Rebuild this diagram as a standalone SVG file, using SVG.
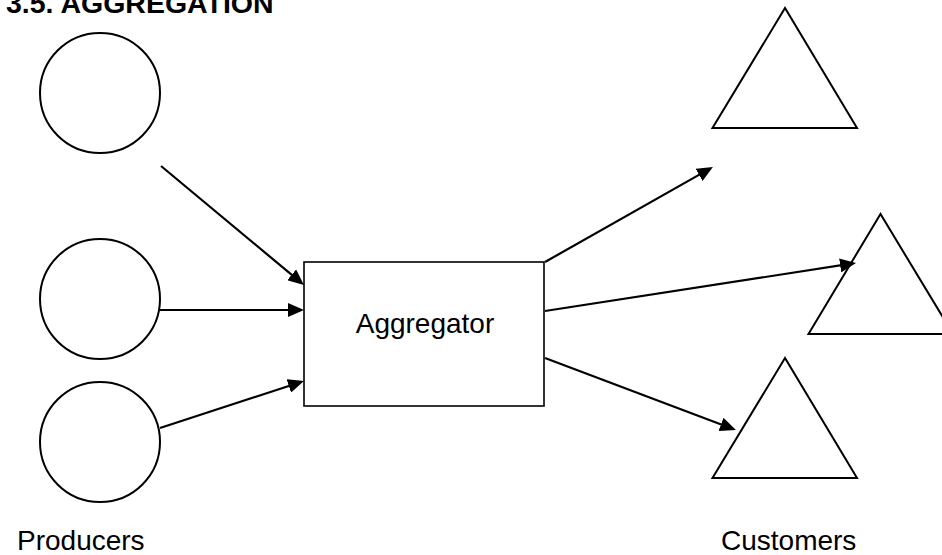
<svg xmlns="http://www.w3.org/2000/svg" width="942" height="555" viewBox="0 0 942 555">
<style>
.shape{fill:#fff;stroke:#000;stroke-width:2}
.box{fill:#fff;stroke:#000;stroke-width:1.6}
.conn{stroke:#000;stroke-width:2.2;fill:none;marker-end:url(#arr)}
.lbl{font-family:"Liberation Sans",Arial,sans-serif;font-size:28px;fill:#000}
.title{font-family:"Liberation Sans",Arial,sans-serif;font-size:28.5px;font-weight:bold;fill:#000}
</style>
<defs>
<marker id="arr" markerUnits="userSpaceOnUse" markerWidth="16" markerHeight="14" refX="8" refY="7" orient="auto" viewBox="0 0 16 14">
<path d="M0,0 L16,7 L0,14 z" fill="#000"/>
</marker>
</defs>
<rect width="942" height="555" fill="#fff"/>
<text class="title" x="6" y="13">3.5. AGGREGATION</text>
<g id="producer1"><circle class="shape" cx="100" cy="93" r="60"/></g>
<g id="producer2"><circle class="shape" cx="100" cy="299" r="60"/></g>
<g id="producer3"><circle class="shape" cx="100" cy="442" r="60"/></g>
<g id="aggregator">
<rect class="box" x="304" y="262" width="240" height="144"/>
<text class="lbl" x="425" y="333" text-anchor="middle">Aggregator</text>
</g>
<g id="customer1"><polygon class="shape" points="785,8 712.5,128 857,128"/></g>
<g id="customer2"><polygon class="shape" points="880.5,214 808.5,334 953,334"/></g>
<g id="customer3"><polygon class="shape" points="785,358 712.5,478 857,478"/></g>
<g id="connectors">
<line class="conn" x1="161" y1="166" x2="297.8" y2="279.9"/>
<line class="conn" x1="160" y1="310" x2="296" y2="310"/>
<line class="conn" x1="160" y1="428" x2="296.4" y2="383.5"/>
<line class="conn" x1="545" y1="262" x2="706" y2="170.9"/>
<line class="conn" x1="545" y1="311" x2="848.1" y2="264.2"/>
<line class="conn" x1="545" y1="358" x2="728.5" y2="427.2"/>
</g>
<g id="labels">
<text class="lbl" x="17" y="550">Producers</text>
<text class="lbl" x="721" y="550">Customers</text>
</g>
</svg>
